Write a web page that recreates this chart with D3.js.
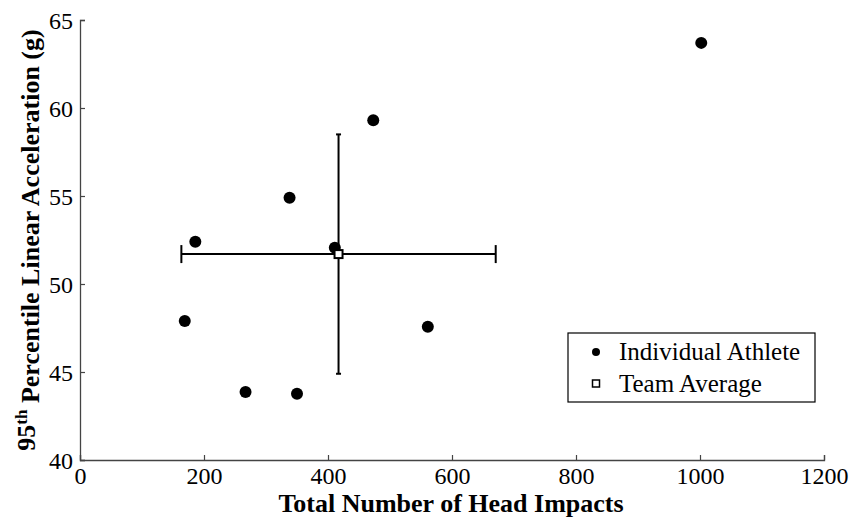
<!DOCTYPE html>
<html>
<head>
<meta charset="utf-8">
<script src="https://cdn.jsdelivr.net/npm/d3@7"></script>
<style>
  html, body { margin: 0; padding: 0; background: #fff; }
  svg { display: block; }
  text { font-family: "Liberation Serif", "Times New Roman", serif; fill: #000; }
</style>
</head>
<body>
<svg id="chart" width="853" height="521"></svg>
<script>
// Per-athlete totals: head impacts over the season and 95th percentile linear acceleration (g)
const athleteImpacts = [1002, 473, 338, 186, 411, 169, 561, 267, 350];
const athleteAccel   = [63.7, 59.3, 54.9, 52.4, 52.06, 47.9, 47.57, 43.86, 43.77];

// Team average with one standard deviation each way
const teamMean = [417, 51.7];   // [impacts, acceleration]
const teamSD   = [253.5, 6.8];

const xTicks = [0, 200, 400, 600, 800, 1000, 1200];
const yTicks = [40, 45, 50, 55, 60, 65];
const legendLabels = ["Individual Athlete", "Team Average"];

const serif = '"Liberation Serif", "Times New Roman", serif';
const svg = d3.select("#chart");
const x = d3.scaleLinear().domain([0, 1200]).range([80, 824]);
const y = d3.scaleLinear().domain([40, 65]).range([460, 20]);
const axisColor = "#444";

// Axes: ticks point inward, labels outside
const xAxis = svg.append("g").attr("transform", `translate(0,${y(40)})`)
  .call(d3.axisBottom(x).tickValues(xTicks).tickSize(-5).tickPadding(7).tickFormat(d3.format("d")));
const yAxis = svg.append("g").attr("transform", `translate(${x(0)},0)`)
  .call(d3.axisLeft(y).tickValues(yTicks).tickSize(-5).tickPadding(7).tickFormat(d3.format("d")));

[xAxis, yAxis].forEach(g => {
  g.attr("font-family", serif).attr("font-size", 24);
  g.select(".domain").attr("stroke", axisColor).attr("stroke-width", 1.3);
  g.selectAll(".tick line").attr("stroke", axisColor).attr("stroke-width", 1.2);
  g.selectAll(".tick text")
    .attr("font-family", serif)
    .attr("font-size", 24)
    .style("font-family", serif)
    .style("font-size", "24px")
    .attr("fill", "#000");
});
yAxis.selectAll(".tick text").attr("dy", "0.34em");

// Axis titles
svg.append("text")
  .attr("x", 451).attr("y", 512)
  .attr("text-anchor", "middle")
  .style("font-size", "26px").style("font-weight", "bold")
  .text("Total Number of Head Impacts");

const yTitle = svg.append("text")
  .attr("transform", "translate(35,240) rotate(-90)")
  .attr("text-anchor", "middle")
  .style("font-size", "26px").style("font-weight", "bold");
yTitle.append("tspan").text("95");
yTitle.append("tspan").attr("dy", "-0.45em").style("font-size", "17px").text("th");
yTitle.append("tspan").attr("dy", "0.45em").text(" Percentile Linear Acceleration (g)");

// Individual athletes
svg.append("g").selectAll("circle")
  .data(athleteImpacts.map((v, i) => [v, athleteAccel[i]]))
  .join("circle")
  .attr("cx", d => x(d[0]))
  .attr("cy", d => y(d[1]))
  .attr("r", 6)
  .attr("fill", "#000");

// Team average error bars
const eb = svg.append("g").attr("stroke", "#000").attr("stroke-width", 2).attr("fill", "none");
const mx = teamMean[0], my = teamMean[1];
eb.append("line")
  .attr("x1", x(mx - teamSD[0])).attr("x2", x(mx + teamSD[0]))
  .attr("y1", y(my)).attr("y2", y(my));
[mx - teamSD[0], mx + teamSD[0]].forEach(v => {
  eb.append("line").attr("x1", x(v)).attr("x2", x(v))
    .attr("y1", y(my) - 9).attr("y2", y(my) + 9);
});
eb.append("line")
  .attr("x1", x(mx)).attr("x2", x(mx))
  .attr("y1", y(my - teamSD[1])).attr("y2", y(my + teamSD[1]));
[my - teamSD[1], my + teamSD[1]].forEach(v => {
  eb.append("line").attr("x1", x(mx) - 2.5).attr("x2", x(mx) + 2.5)
    .attr("y1", y(v)).attr("y2", y(v));
});
svg.append("rect")
  .attr("x", x(mx) - 4).attr("y", y(my) - 4)
  .attr("width", 8).attr("height", 8)
  .attr("fill", "#fff").attr("stroke", "#000").attr("stroke-width", 2);

// Legend
const lg = svg.append("g");
lg.append("rect")
  .attr("x", 568).attr("y", 333).attr("width", 247).attr("height", 69)
  .attr("fill", "#fff").attr("stroke", "#000").attr("stroke-width", 1.2);
lg.append("circle").attr("cx", 596).attr("cy", 352).attr("r", 4).attr("fill", "#000");
lg.append("rect").attr("x", 592.5).attr("y", 380).attr("width", 7).attr("height", 7)
  .attr("fill", "#fff").attr("stroke", "#000").attr("stroke-width", 1.5);
lg.selectAll("text.lab").data(legendLabels).join("text")
  .attr("class", "lab")
  .attr("x", 619).attr("y", (d, i) => 360 + i * 32)
  .style("font-size", "25px")
  .text(d => d);
</script>
</body>
</html>
